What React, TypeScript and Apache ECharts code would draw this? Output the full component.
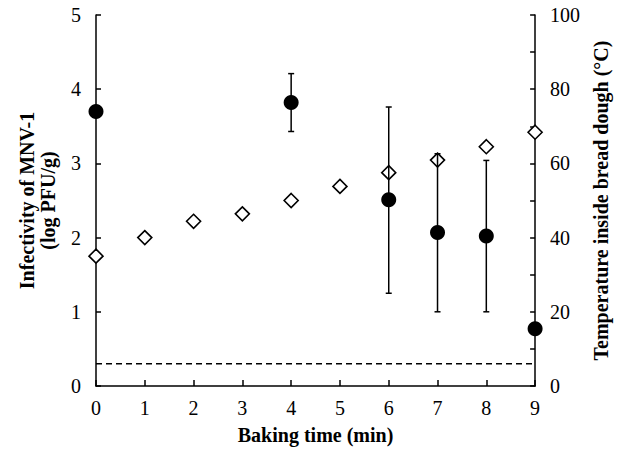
import React, { useEffect, useRef } from "react";
import * as echarts from "echarts";

const times = [0, 1, 2, 3, 4, 5, 6, 7, 8, 9];
// Infectivity (log PFU/g), filled circles, with error bars
const infTimes = [0, 4, 6, 7, 8, 9];
const infValues = [3.7, 3.82, 2.51, 2.07, 2.02, 0.77];
const infLow = [3.7, 3.43, 1.25, 1.0, 1.0, 0.77];
const infHigh = [3.7, 4.21, 3.76, 3.13, 3.04, 0.77];
// Temperature inside bread dough (°C), open diamonds
const tempValues = [35, 40, 44.4, 46.4, 50, 53.8, 57.5, 60.9, 64.5, 68.4];
// Detection limit
const detectionLimit = 0.3;

const FONT = "'Liberation Serif', 'Times New Roman', serif";

export default function App() {
  const ref = useRef<HTMLDivElement>(null);
  useEffect(() => {
    const chart = echarts.init(ref.current!, null, { renderer: "svg" });
    const errData = infTimes.map((t, i) => [t, infLow[i], infHigh[i]]);
    chart.setOption({
      animation: false,
      backgroundColor: "#fff",
      textStyle: { fontFamily: FONT, color: "#000" },
      grid: { left: 96, right: 78, top: 15, bottom: 61 },
      xAxis: {
        type: "value",
        min: 0,
        max: 9,
        interval: 1,
        name: "Baking time (min)",
        nameLocation: "middle",
        nameGap: 39,
        nameTextStyle: { fontFamily: FONT, fontWeight: "bold", fontSize: 20, color: "#000" },
        axisLine: { lineStyle: { color: "#000", width: 1.5 } },
        axisTick: { inside: true, length: 6, lineStyle: { color: "#000", width: 1.5 } },
        axisLabel: { fontFamily: FONT, fontSize: 20, color: "#000", margin: 12 },
        splitLine: { show: false },
      },
      yAxis: [
        {
          type: "value",
          min: 0,
          max: 5,
          interval: 1,
          name: "Infectivity of MNV-1\n(log PFU/g)",
          nameLocation: "middle",
          nameGap: 38,
          nameRotate: 90,
          nameTextStyle: { fontFamily: FONT, fontWeight: "bold", fontSize: 20, color: "#000", lineHeight: 21 },
          axisLine: { show: true, lineStyle: { color: "#000", width: 1.5 } },
          axisTick: { inside: true, length: 5, lineStyle: { color: "#000", width: 1.5 } },
          axisLabel: { fontFamily: FONT, fontSize: 20, color: "#000", margin: 15 },
          splitLine: { show: false },
        },
        {
          type: "value",
          min: 0,
          max: 100,
          interval: 10,
          position: "right",
          name: "Temperature inside bread dough (°C)",
          nameLocation: "middle",
          nameGap: 52,
          nameRotate: 90,
          nameTextStyle: { fontFamily: FONT, fontWeight: "bold", fontSize: 20, color: "#000" },
          axisLine: { show: true, lineStyle: { color: "#000", width: 1.5 } },
          axisTick: { inside: true, length: 5, lineStyle: { color: "#000", width: 1.5 } },
          axisLabel: {
            fontFamily: FONT,
            fontSize: 20,
            color: "#000",
            margin: 15,
            formatter: (v: number) => (v % 20 === 0 ? String(v) : ""),
          },
          splitLine: { show: false },
        },
      ],
      series: [
        {
          type: "line",
          data: [
            [times[0], detectionLimit],
            [times[times.length - 1], detectionLimit],
          ],
          symbol: "none",
          lineStyle: { color: "#000", width: 1.5, type: [6, 4] },
          z: 1,
        },
        {
          type: "scatter",
          yAxisIndex: 1,
          data: times.map((t, i) => [t, tempValues[i]]),
          symbol: "diamond",
          symbolSize: [14, 14],
          itemStyle: { color: "#fff", borderColor: "#000", borderWidth: 1.6, opacity: 1 },
          z: 2,
        },
        {
          type: "custom",
          data: errData,
          encode: { x: 0, y: [1, 2] },
          z: 3,
          renderItem: (params: any, api: any) => {
            const x = api.value(0);
            const lo = api.value(1);
            const hi = api.value(2);
            if (hi - lo < 0.01) return null;
            const pLo = api.coord([x, lo]);
            const pHi = api.coord([x, hi]);
            const w = 3;
            const style = { stroke: "#000", lineWidth: 1.5 };
            return {
              type: "group",
              children: [
                { type: "line", shape: { x1: pLo[0], y1: pLo[1], x2: pHi[0], y2: pHi[1] }, style },
                { type: "line", shape: { x1: pLo[0] - w, y1: pLo[1], x2: pLo[0] + w, y2: pLo[1] }, style },
                { type: "line", shape: { x1: pHi[0] - w, y1: pHi[1], x2: pHi[0] + w, y2: pHi[1] }, style },
              ],
            };
          },
        },
        {
          type: "scatter",
          data: infTimes.map((t, i) => [t, infValues[i]]),
          symbol: "circle",
          symbolSize: 15,
          itemStyle: { color: "#000", opacity: 1 },
          z: 4,
        },
      ],
    });
    return () => chart.dispose();
  }, []);
  return (
    <div
      ref={ref}
      style={{ position: "fixed", left: 0, top: 0, width: 619, height: 450 }}
    />
  );
}
